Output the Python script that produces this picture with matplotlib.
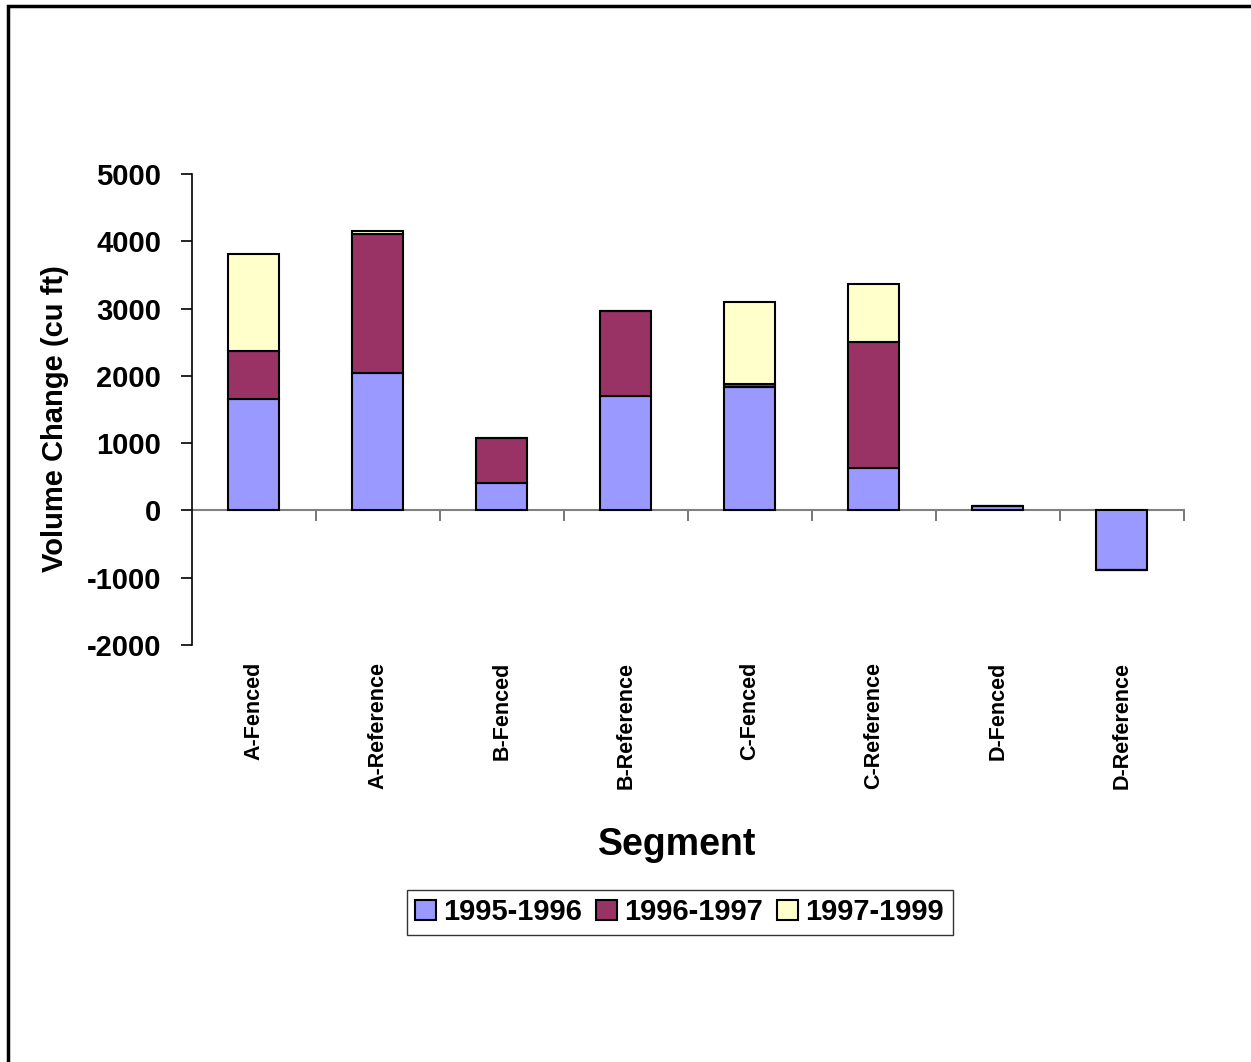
import matplotlib
matplotlib.use("Agg")
import matplotlib.pyplot as plt
from matplotlib.patches import Rectangle
import numpy as np

plt.rcParams["font.family"] = ["Liberation Sans", "DejaVu Sans"]
plt.rcParams["font.weight"] = "bold"
plt.rcParams["axes.unicode_minus"] = False

segments = ["A-Fenced", "A-Reference", "B-Fenced", "B-Reference",
            "C-Fenced", "C-Reference", "D-Fenced", "D-Reference"]
periods = ["1995-1996", "1996-1997", "1997-1999"]
vol_95_96 = [1662, 2034, 402, 1696, 1840, 630, 64, -883]
vol_96_97 = [700, 2069, 680, 1261, 40, 1870, 0, 0]
vol_97_99 = [1443, 44, 0, 0, 1215, 868, 0, 0]
colors = ["#9999FF", "#993366", "#FFFFCC"]

fig = plt.figure(figsize=(12.51, 10.62), dpi=100)
ax = fig.add_axes([0.1532, 0.3929, 0.793, 0.4432])

x = np.arange(len(segments))
series = [vol_95_96, vol_96_97, vol_97_99]
bottom = np.zeros(len(segments))
for vals, col, lab in zip(series, colors, periods):
    vals = np.array(vals, dtype=float)
    ax.bar(x, vals, width=0.41, bottom=bottom, color=col, edgecolor="black",
           linewidth=1.5, label=lab, zorder=3)
    bottom = bottom + vals

ax.set_xlim(-0.5, len(segments) - 0.5)
ax.set_ylim(-2000, 5000)
ax.set_yticks(range(-2000, 5001, 1000))
ax.tick_params(axis="y", direction="out", length=8, width=1.2, labelsize=21, pad=14)
for t in ax.get_yticklabels():
    t.set_fontweight("bold")

# category axis drawn along zero
ax.spines["top"].set_visible(False)
ax.spines["right"].set_visible(False)
ax.spines["left"].set_linewidth(1.2)
ax.spines["bottom"].set_position(("data", 0))
ax.spines["bottom"].set_color("#808080")
ax.spines["bottom"].set_linewidth(1.5)
ax.spines["bottom"].set_zorder(2)
ax.set_xticks(np.arange(0.5, len(segments), 1.0))
ax.set_xticklabels([])
ax.tick_params(axis="x", direction="out", length=8, width=1.2, color="#606060")

for xi, name in zip(x, segments):
    ax.text(xi, -0.037, name, transform=ax.get_xaxis_transform(), rotation=90,
            ha="center", va="top", fontsize=15.5, fontweight="bold")

ax.set_ylabel("Volume Change (cu ft)", fontsize=21, fontweight="bold", va="center")
ax.yaxis.set_label_coords(-0.138, 0.48)
fig.text(0.5415, 0.204, "Segment", ha="center", va="center", fontsize=27,
         fontweight="bold")

leg = fig.legend(loc="center", bbox_to_anchor=(0.5432, 0.1408), ncol=3,
                 fontsize=21, frameon=True, fancybox=False, handlelength=0.7,
                 handleheight=0.7, handletextpad=0.25, columnspacing=0.5,
                 borderpad=0.3, borderaxespad=0)
leg.get_frame().set_edgecolor("black")
leg.get_frame().set_linewidth(1.0)
for t in leg.get_texts():
    t.set_fontweight("bold")

# outer chart frame
fig.patches.append(Rectangle((8 / 1251, -0.05), 1.2, 1.05 - 6 / 1062,
                             transform=fig.transFigure, fill=False,
                             edgecolor="black", linewidth=2.5))

fig.savefig("out.png", dpi=100)
